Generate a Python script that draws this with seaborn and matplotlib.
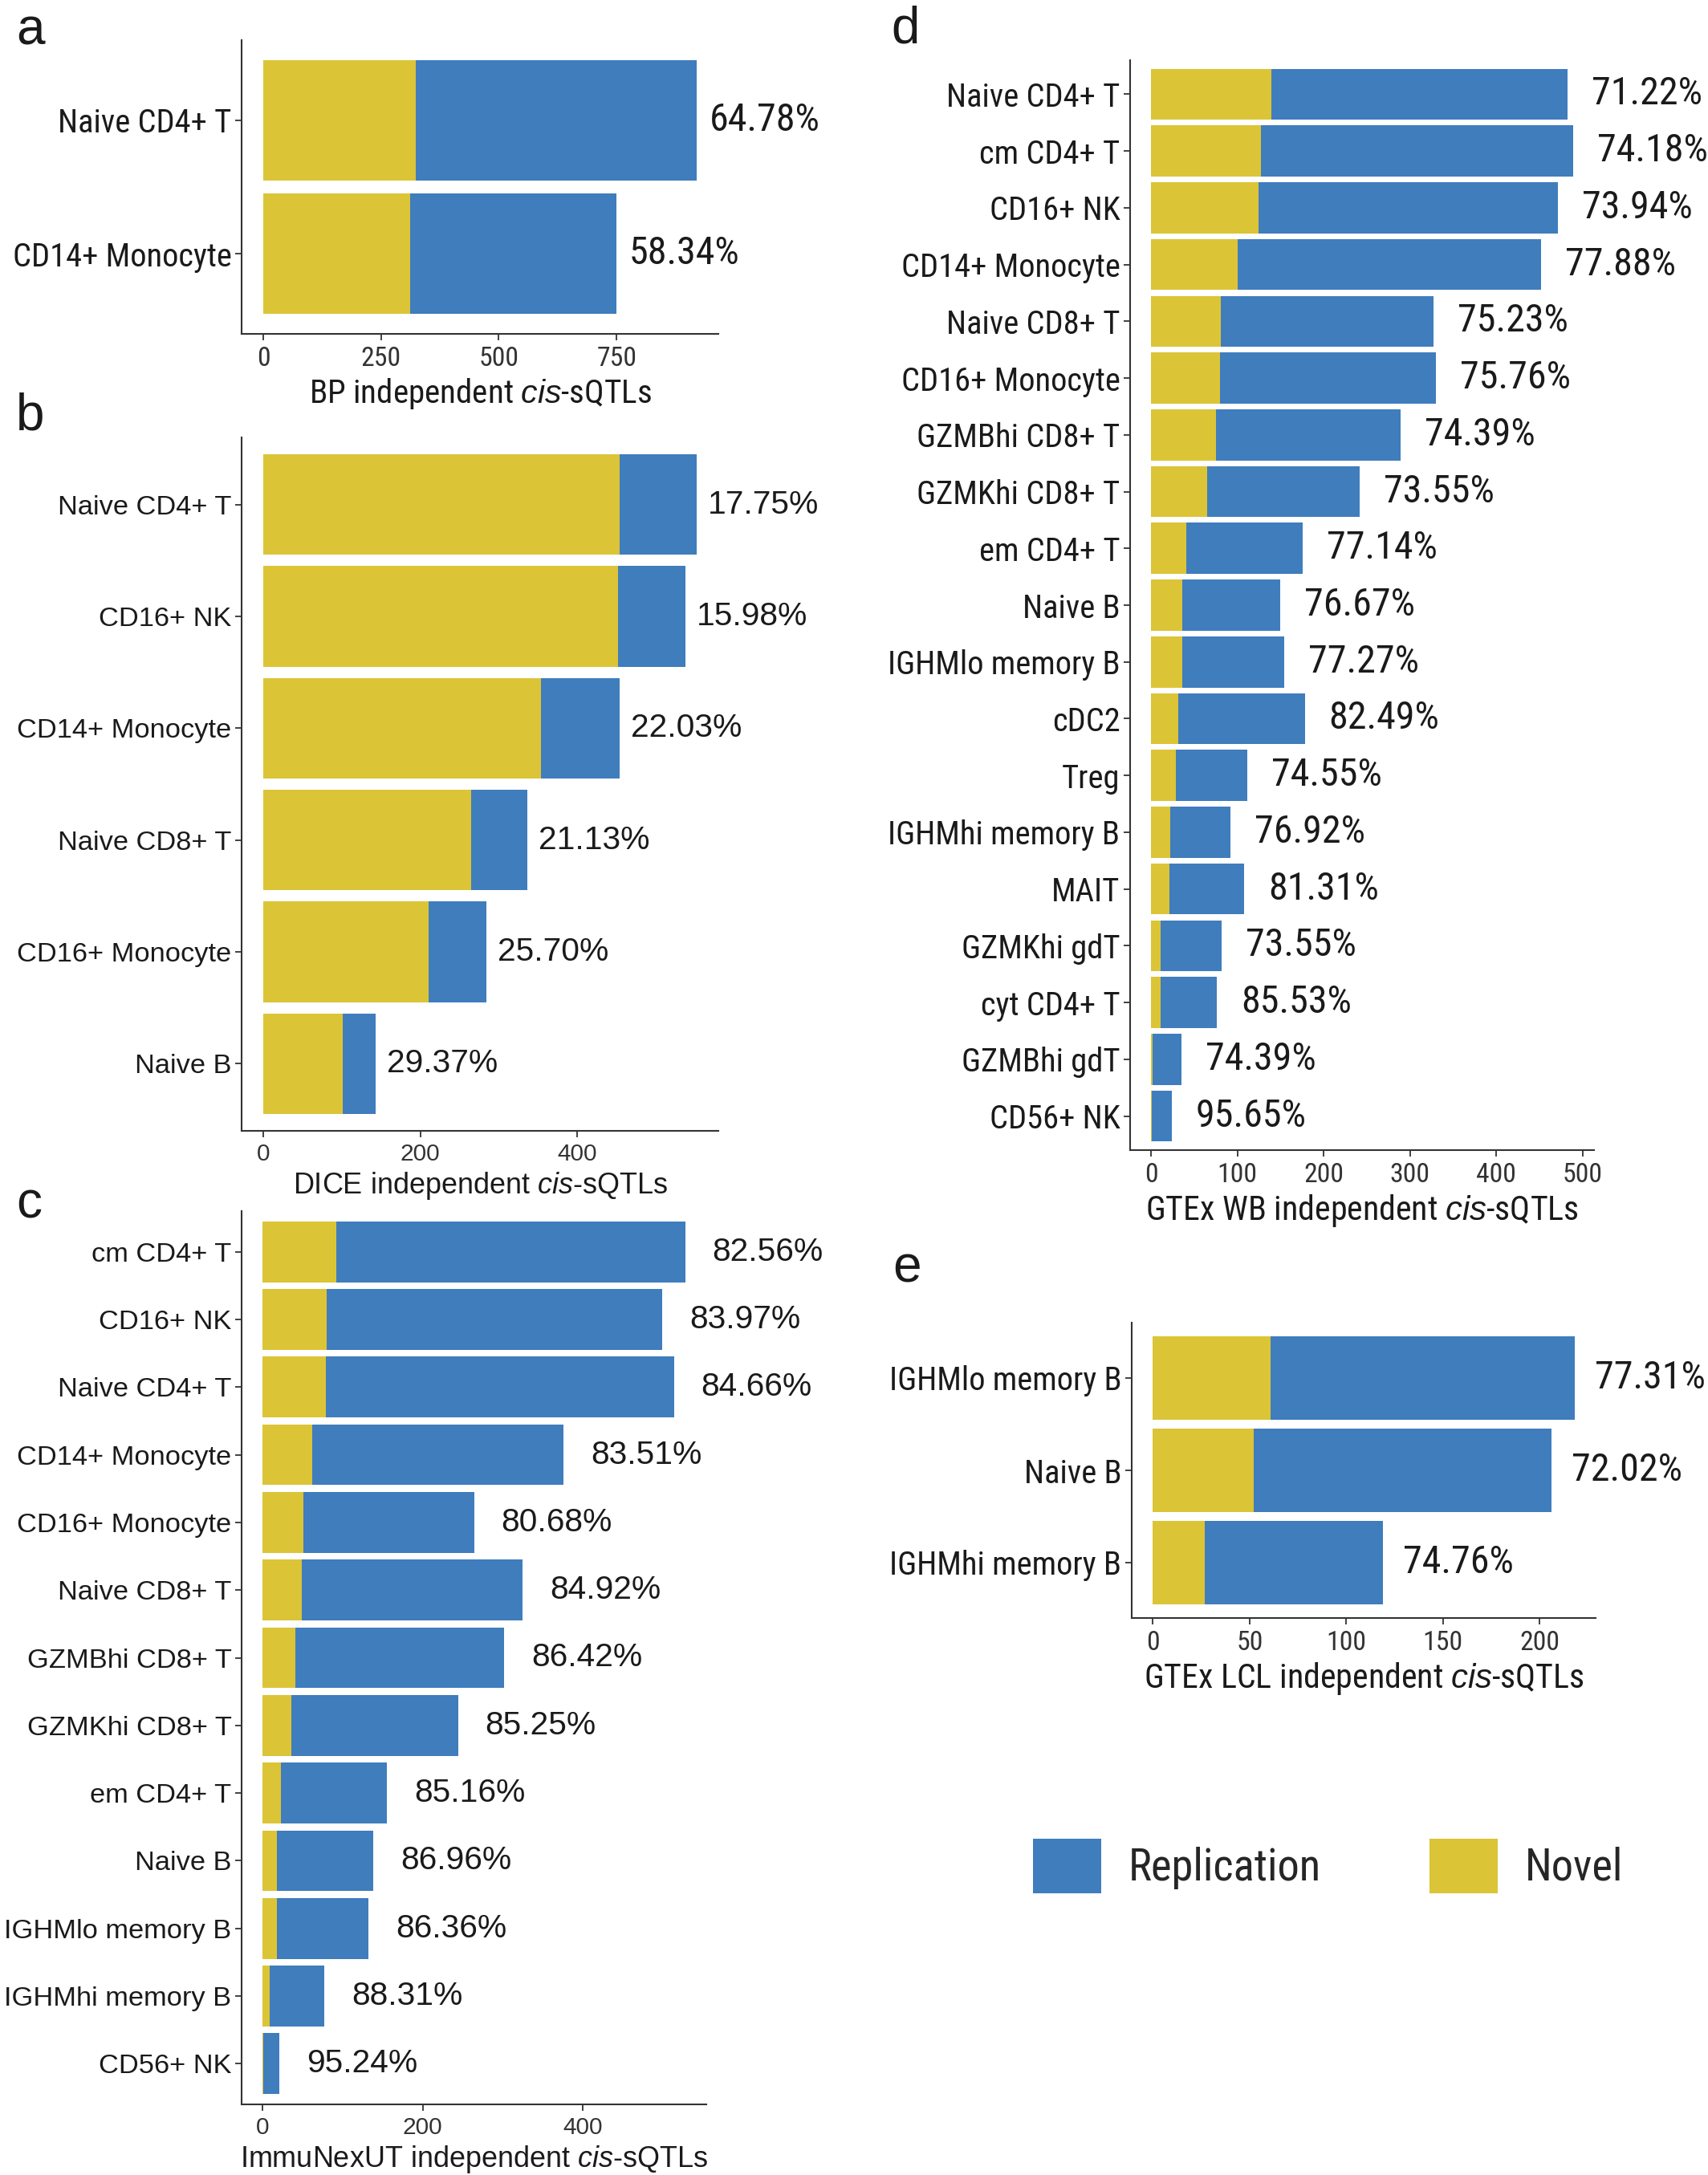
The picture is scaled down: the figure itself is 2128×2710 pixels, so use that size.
import os
import matplotlib
matplotlib.use("Agg")
import matplotlib.pyplot as plt
import seaborn as sns
from matplotlib import font_manager
from matplotlib.font_manager import FontProperties
from matplotlib.patches import Patch
from matplotlib.ticker import MultipleLocator

# panel a: BP
a_cells = ["Naive CD4+ T", "CD14+ Monocyte"]
a_novel = [324, 312]
a_total = [920, 749]
a_pct = ["64.78%", "58.34%"]

# panel b: DICE
b_cells = ["Naive CD4+ T", "CD16+ NK", "CD14+ Monocyte", "Naive CD8+ T",
           "CD16+ Monocyte", "Naive B"]
b_novel = [454, 452, 354, 265, 211, 101]
b_total = [552, 538, 454, 336, 284, 143]
b_pct = ["17.75%", "15.98%", "22.03%", "21.13%", "25.70%", "29.37%"]

# panel c: ImmuNexUT
c_cells = ["cm CD4+ T", "CD16+ NK", "Naive CD4+ T", "CD14+ Monocyte",
           "CD16+ Monocyte", "Naive CD8+ T", "GZMBhi CD8+ T", "GZMKhi CD8+ T",
           "em CD4+ T", "Naive B", "IGHMlo memory B", "IGHMhi memory B", "CD56+ NK"]
c_novel = [92, 80, 79, 62, 51, 49, 41, 36, 23, 18, 18, 9, 1]
c_total = [528, 499, 514, 376, 264, 325, 302, 244, 155, 138, 132, 77, 21]
c_pct = ["82.56%", "83.97%", "84.66%", "83.51%", "80.68%", "84.92%", "86.42%",
         "85.25%", "85.16%", "86.96%", "86.36%", "88.31%", "95.24%"]

# panel d: GTEx WB
d_cells = ["Naive CD4+ T", "cm CD4+ T", "CD16+ NK", "CD14+ Monocyte", "Naive CD8+ T",
           "CD16+ Monocyte", "GZMBhi CD8+ T", "GZMKhi CD8+ T", "em CD4+ T", "Naive B",
           "IGHMlo memory B", "cDC2", "Treg", "IGHMhi memory B", "MAIT", "GZMKhi gdT",
           "cyt CD4+ T", "GZMBhi gdT", "CD56+ NK"]
d_novel = [139, 127, 124, 100, 81, 80, 75, 65, 41, 36, 36, 31, 29, 22, 21, 11, 11, 2, 1]
d_total = [483, 489, 472, 452, 327, 330, 289, 242, 176, 150, 154, 178, 111, 92, 108,
           82, 76, 35, 24]
d_pct = ["71.22%", "74.18%", "73.94%", "77.88%", "75.23%", "75.76%", "74.39%", "73.55%",
         "77.14%", "76.67%", "77.27%", "82.49%", "74.55%", "76.92%", "81.31%", "73.55%",
         "85.53%", "74.39%", "95.65%"]

# panel e: GTEx LCL
e_cells = ["IGHMlo memory B", "Naive B", "IGHMhi memory B"]
e_novel = [61, 52, 27]
e_total = [218, 206, 119]
e_pct = ["77.31%", "72.02%", "74.76%"]

BLUE = "#3F7DBD"
YELLOW = "#DCC437"
INK = "#1a1a1a"

sns.set_style("ticks")
REG = "Liberation Sans"
plt.rcParams["font.family"] = [REG, "DejaVu Sans"]
plt.rcParams["mathtext.fontset"] = "custom"
plt.rcParams["mathtext.it"] = REG + ":italic"
plt.rcParams["mathtext.rm"] = REG


def find_narrow():
    wanted = ["liberationsansnarrow-regular", "arialn.", "notosans-condensed.",
              "notosans-semicondensed.", "robotocondensed-regular",
              "roboto_condensed-regular", "opensans_condensed-regular",
              "opensans-condensed", "dejavusanscondensed."]
    files = [f.fname for f in font_manager.fontManager.ttflist]
    for w in wanted:
        for fn in files:
            if os.path.basename(fn).lower().startswith(w):
                return fn
    return None


nfile = find_narrow()


def fp(narrow):
    if narrow and nfile:
        return FontProperties(fname=nfile)
    return FontProperties(family=REG)


W, H = 2128, 2710
fig = plt.figure(figsize=(W / 100, H / 100), dpi=100)
renderer = fig.canvas.get_renderer()


def fit(text, target, prop):
    # font size that gives the text the measured pixel width
    p = prop.copy()
    p.set_size(20)
    t = fig.text(0, 0, text, fontproperties=p)
    w = t.get_window_extent(renderer).width
    t.remove()
    return 20 * target / w


def rect(x0, y0, x1, y1):
    return [x0 / W, 1 - y1 / H, (x1 - x0) / W, (y1 - y0) / H]


def panel(box, cells, novel, total, pct, source, step, narrow, offset, letter, lpos,
          xlab_w):
    ax = fig.add_axes(rect(*box))
    base = fp(narrow)
    sns.barplot(x=total, y=cells, color=BLUE, saturation=1, width=0.9,
                linewidth=0, ax=ax, orient="h")
    sns.barplot(x=novel, y=cells, color=YELLOW, saturation=1, width=0.9,
                linewidth=0, ax=ax, orient="h")
    n = len(cells)
    ax.set_ylim(n - 0.4, -0.6)
    top = max(total)
    ax.set_xlim(-0.05 * top, 1.05 * top)
    ax.xaxis.set_major_locator(MultipleLocator(step))

    p_pct = base.copy()
    p_pct.set_size(fit("82.56%", 138, base))
    for i, (t, p) in enumerate(zip(total, pct)):
        ax.annotate(p, xy=(t, i), xytext=(offset * 0.72, 0), textcoords="offset points",
                    ha="left", va="center", fontproperties=p_pct, color=INK)

    ax.set_ylabel("")
    label = source + r" independent $\mathit{cis}$-sQTLs"
    p_xl = base.copy()
    p_xl.set_size(fit(label, xlab_w, base))
    ax.set_xlabel(label, fontproperties=p_xl, color=INK, labelpad=4)

    p_y = base.copy()
    p_y.set_size(fit("Naive CD4+ T", 216, base))
    p_x = base.copy()
    p_x.set_size(fit("400", 50, base))
    ax.tick_params(axis="y", length=6, width=1.3, pad=3, colors="#333333",
                   labelcolor=INK)
    ax.tick_params(axis="x", length=6, width=1.3, pad=5, colors="#333333",
                   labelcolor="#333333")
    for lab in ax.get_yticklabels():
        lab.set_fontproperties(p_y)
    for lab in ax.get_xticklabels():
        lab.set_fontproperties(p_x)
    sns.despine(ax=ax)
    for s in ("left", "bottom"):
        ax.spines[s].set_linewidth(1.5)
        ax.spines[s].set_color("#333333")
    fig.text(lpos[0] / W, 1 - lpos[1] / H, letter, fontsize=46, family=REG,
             ha="left", va="center", color=INK)
    return ax


panel((301, 50, 895, 416), a_cells, a_novel, a_total, a_pct, "BP", 250,
      True, 16, "a", (20, 38), 428)
panel((301, 545, 895, 1409), b_cells, b_novel, b_total, b_pct, "DICE", 200,
      False, 14, "b", (20, 519), 467)
panel((301, 1509, 880, 2622), c_cells, c_novel, c_total, c_pct, "ImmuNexUT", 200,
      False, 34, "c", (20, 1500), 583)
panel((1408, 75, 1986, 1433), d_cells, d_novel, d_total, d_pct, "GTEx WB", 100,
      True, 30, "d", (1110, 36), 541)
panel((1410, 1648, 1988, 2016), e_cells, e_novel, e_total, e_pct, "GTEx LCL", 50,
      True, 25, "e", (1112, 1580), 550)

leg_prop = fp(True)
leg_size = fit("Replication", 240, leg_prop)
leg_prop.set_size(leg_size)
em = leg_size * 100 / 72
handles = [Patch(facecolor=BLUE, edgecolor="none", label="Replication"),
           Patch(facecolor=YELLOW, edgecolor="none", label="Novel")]
fig.legend(handles=handles, loc="center left", bbox_to_anchor=(1287 / W, 1 - 2325 / H),
           ncol=2, frameon=False, borderpad=0, borderaxespad=0,
           handlelength=85 / em, handleheight=85 / em,
           handletextpad=34 / em, columnspacing=135 / em, prop=leg_prop)

fig.savefig("out.png", dpi=100)
